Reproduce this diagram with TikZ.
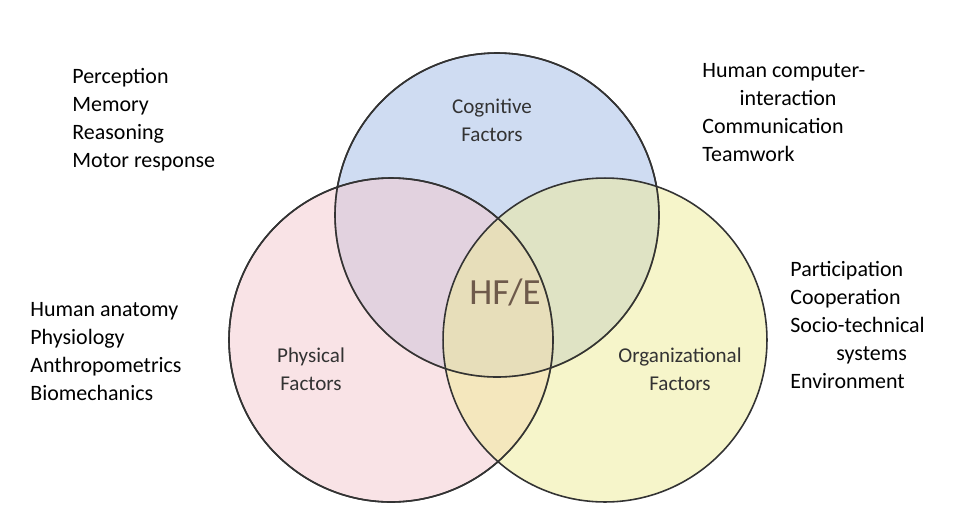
\documentclass[tikz,border=0pt]{standalone}
\usepackage{fontspec}
\setmainfont{Carlito}
\begin{document}
\begin{tikzpicture}[x=0.02cm,y=-0.02cm,
    factor/.style={circle, draw=black!80, line width=0.9pt, minimum size=6.48cm, fill opacity=0.5, text opacity=1},
    list/.style={anchor=north west, align=left, inner sep=0pt, font=\fontsize{12.5}{15.9}\selectfont},
    lbl/.style={align=center, font=\fontsize{12}{15.9}\selectfont, text=black!80}]
  \useasboundingbox (0,0) rectangle (963,511);
  % the three factor circles
  \node[factor, fill={rgb,255:red,160;green,185;blue,230}] (cog) at (497,215) {};
  \node[factor, fill={rgb,255:red,244;green,200;blue,205}] (phy) at (391,340) {};
  \node[factor, fill={rgb,255:red,238;green,235;blue,150}] (org) at (605,340) {};
  \draw[black!80, line width=0.9pt] (497,215) circle [radius=162];
  \draw[black!80, line width=0.9pt] (391,340) circle [radius=162];

  \node[lbl] (coglbl) at (492,120) {Cognitive\\Factors};
  \node[lbl] (phylbl) at (311,369) {Physical\\Factors};
  \node[lbl] (orglbl) at (680,369) {Organizational\\Factors};
  \node[font=\fontsize{21}{24}\selectfont, text={rgb,255:red,110;green,90;blue,75}] (hfe) at (505,292) {HF/E};

  % lists
  \node[list] (cognitems) at (72,68) {Perception\\Memory\\Reasoning\\Motor response};
  \node[list] (hciitems) at (702,63) {Human computer-\\\hspace{1.7em}interaction\\Communication\\Teamwork};
  \node[list] (phyitems) at (30,302) {Human anatomy\\Physiology\\Anthropometrics\\Biomechanics};
  \node[list] (orgitems) at (790,261) {Participation\\Cooperation\\Socio-technical\\\hspace{2.1em}systems\\Environment};
\end{tikzpicture}
\end{document}
